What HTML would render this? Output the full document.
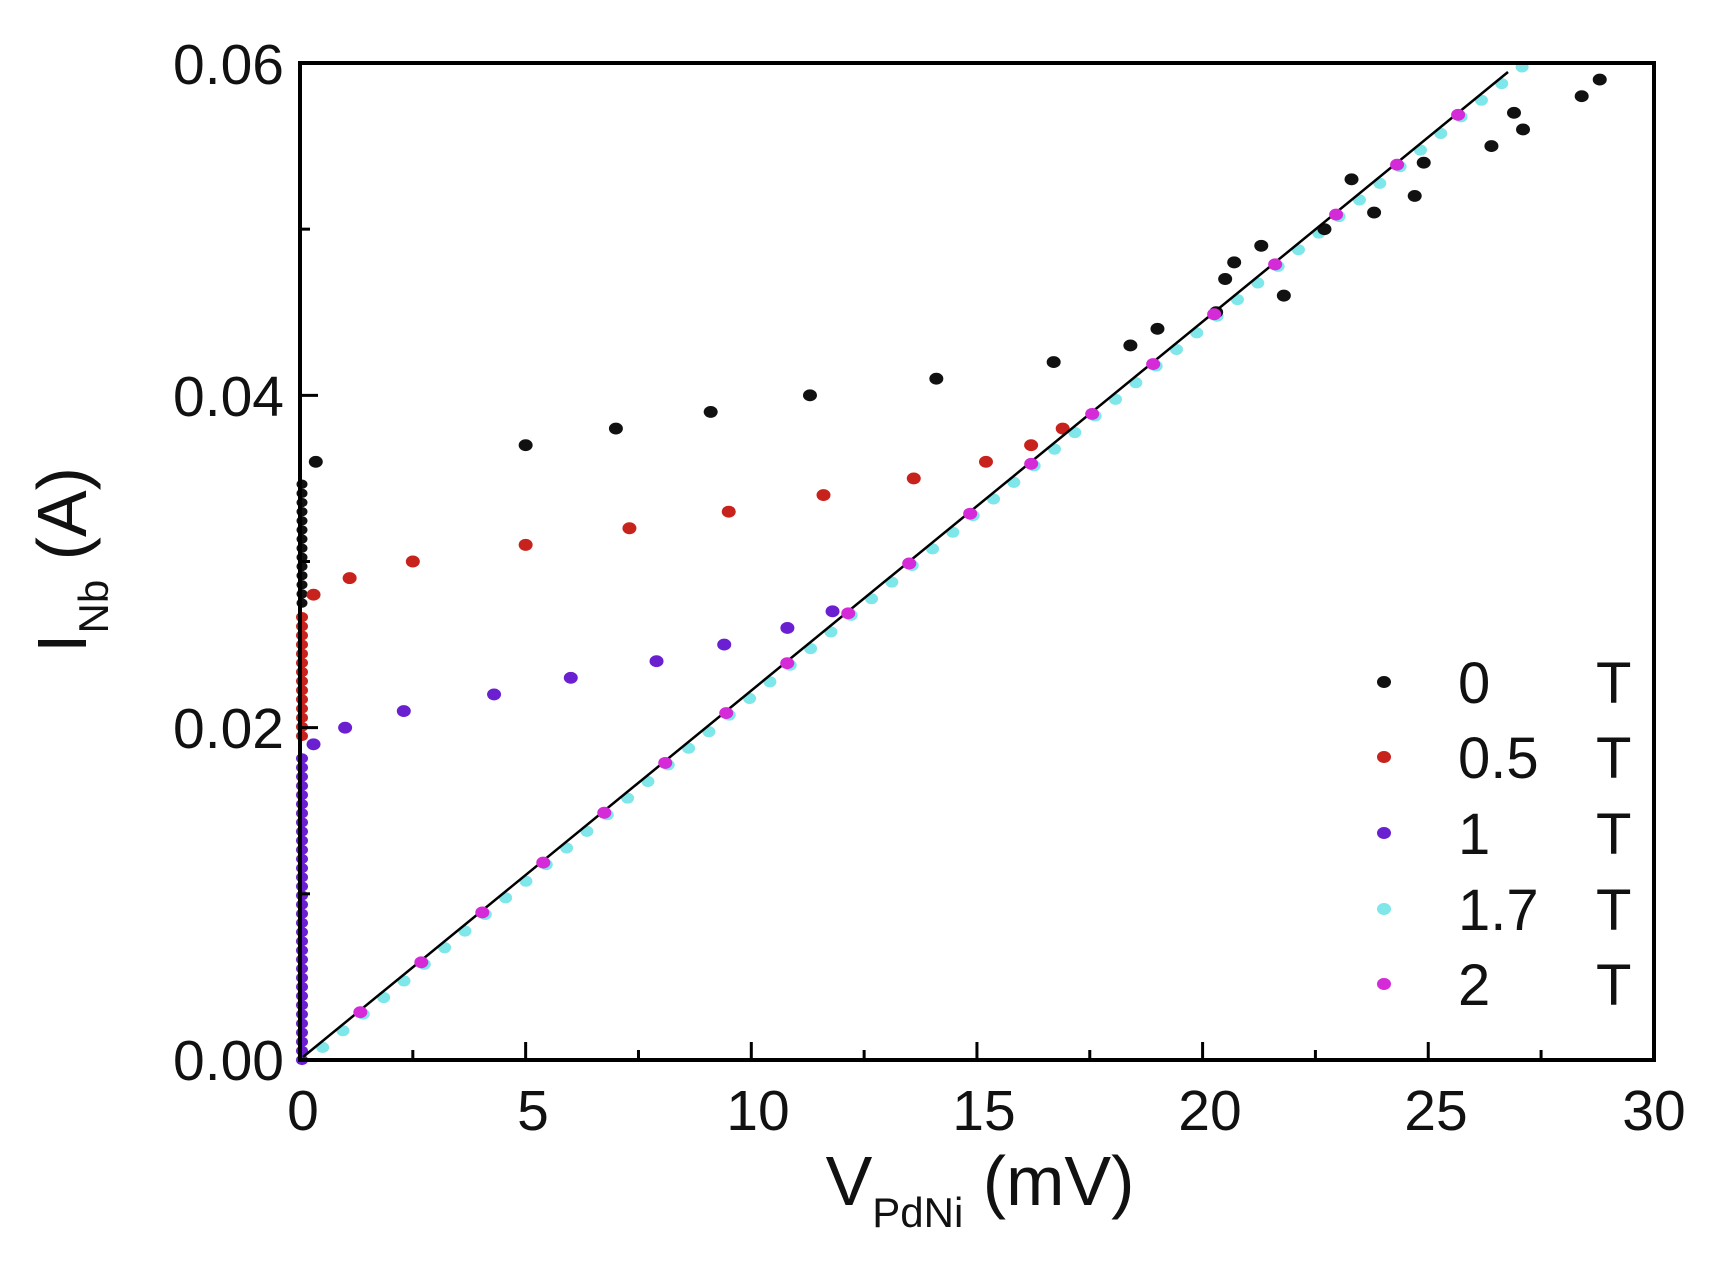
<!DOCTYPE html>
<html><head><meta charset="utf-8"><style>
html,body{margin:0;padding:0;background:#fff}
svg{display:block}
text{font-family:"Liberation Sans",Arial,sans-serif;fill:#111}
</style></head><body>
<svg id="s" width="1725" height="1281" viewBox="0 0 1725 1281" xmlns="http://www.w3.org/2000/svg">
<rect width="1725" height="1281" fill="#fff"/>
<g id="pts"></g>
<line x1="303" y1="1057" x2="1508" y2="72" stroke="#000" stroke-width="2.5"/>
<g id="pts2"></g>
<rect x="300" y="63" width="1354" height="997" fill="none" stroke="#000" stroke-width="4"/>
<g id="ticks" stroke="#000" stroke-width="3"></g>
<g font-size="57" text-anchor="end">
<text x="284" y="1080">0.00</text>
<text x="284" y="748">0.02</text>
<text x="284" y="416">0.04</text>
<text x="284" y="84">0.06</text>
</g>
<g font-size="57" text-anchor="middle">
<text x="303" y="1130">0</text>
<text x="533" y="1130">5</text>
<text x="758" y="1130">10</text>
<text x="984" y="1130">15</text>
<text x="1210" y="1130">20</text>
<text x="1436" y="1130">25</text>
<text x="1654" y="1130">30</text>
</g>
<text x="980" y="1205" font-size="70" text-anchor="middle">V<tspan font-size="42" dy="22">PdNi</tspan><tspan dy="-22"> (mV)</tspan></text>
<text transform="translate(86,560) rotate(-90)" font-size="70" text-anchor="middle">I<tspan font-size="42" dy="22">Nb</tspan><tspan dy="-22"> (A)</tspan></text>
<g font-size="58">
<text x="1458" y="703">0</text><text x="1596" y="703">T</text>
<text x="1458" y="778">0.5</text><text x="1596" y="778">T</text>
<text x="1458" y="854">1</text><text x="1596" y="854">T</text>
<text x="1458" y="930">1.7</text><text x="1596" y="930">T</text>
<text x="1458" y="1005">2</text><text x="1596" y="1005">T</text>
</g>
</svg>
<script>
var X=function(v){return 300+v*45.13},Y=function(i){return 1060-i*16617};
var LX=function(i){return 303+(1057-Y(i))/0.8174;};
var g=document.getElementById('pts'),g2=document.getElementById('pts2'),ns='http://www.w3.org/2000/svg';
function dot(x,y,c,r,gg){var e=document.createElementNS(ns,'ellipse');e.setAttribute('cx',x);e.setAttribute('cy',y);e.setAttribute('rx',r||7);e.setAttribute('ry',(r||7)*0.85);e.setAttribute('fill',c);(gg||g).appendChild(e);}
var K='#111',R='#c8221c',P='#6a1fd0',C='#7fe6ea',M='#d42ad8';
for(var i=0.001;i<=0.0601;i+=0.001){dot(LX(i)+3,Y(i)+4,C,6.5);}
for(var i=0;i<=0.0185;i+=0.00055){dot(302,Y(i),P,6);}
for(var i=0.0195;i<=0.0270;i+=0.00055){dot(302,Y(i),R,6);}
for(var i=0.0275;i<=0.0350;i+=0.00055){dot(302,Y(i),K,5.5);}
[[0.3,0.019],[1,0.020],[2.3,0.021],[4.3,0.022],[6,0.023],[7.9,0.024],[9.4,0.025],[10.8,0.026],[11.8,0.027]].forEach(function(p){dot(X(p[0]),Y(p[1]),P);});
[[0.3,0.028],[1.1,0.029],[2.5,0.030],[5,0.031],[7.3,0.032],[9.5,0.033],[11.6,0.034],[13.6,0.035],[15.2,0.036],[16.2,0.037],[16.9,0.038]].forEach(function(p){dot(X(p[0]),Y(p[1]),R);});
[[0.35,0.036],[5,0.037],[7,0.038],[9.1,0.039],[11.3,0.040],[14.1,0.041],[16.7,0.042],[18.4,0.043],[19,0.044],[20.3,0.045],[20.5,0.047],[20.7,0.048],[21.3,0.049],[21.8,0.046],[22.7,0.050],[23.3,0.053],[23.8,0.051],[24.7,0.052],[24.9,0.054],[26.4,0.055],[26.9,0.057],[27.1,0.056],[28.4,0.058],[28.8,0.059]].forEach(function(p){dot(X(p[0]),Y(p[1]),K);});
for(var k=1;k<=19;k++){var i=0.003*k;dot(LX(i),Y(i)+2,M,7,g2);}
dot(1384,682,K);dot(1384,757,R);dot(1384,833,P);dot(1384,909,C);dot(1384,984,M);
var t=document.getElementById('ticks');
function ln(a,b,c,d){var e=document.createElementNS(ns,'line');e.setAttribute('x1',a);e.setAttribute('y1',b);e.setAttribute('x2',c);e.setAttribute('y2',d);t.appendChild(e);}
for(var v=0;v<=30;v+=2.5){var x=X(v),L=(v%5==0)?18:10;ln(x,1060,x,1060-L);}
for(var i=0;i<=0.06001;i+=0.01){var y=Y(i),L=(Math.round(i*100)%2==0)?18:10;ln(300,y,300+L,y);}
</script>
</body></html>
